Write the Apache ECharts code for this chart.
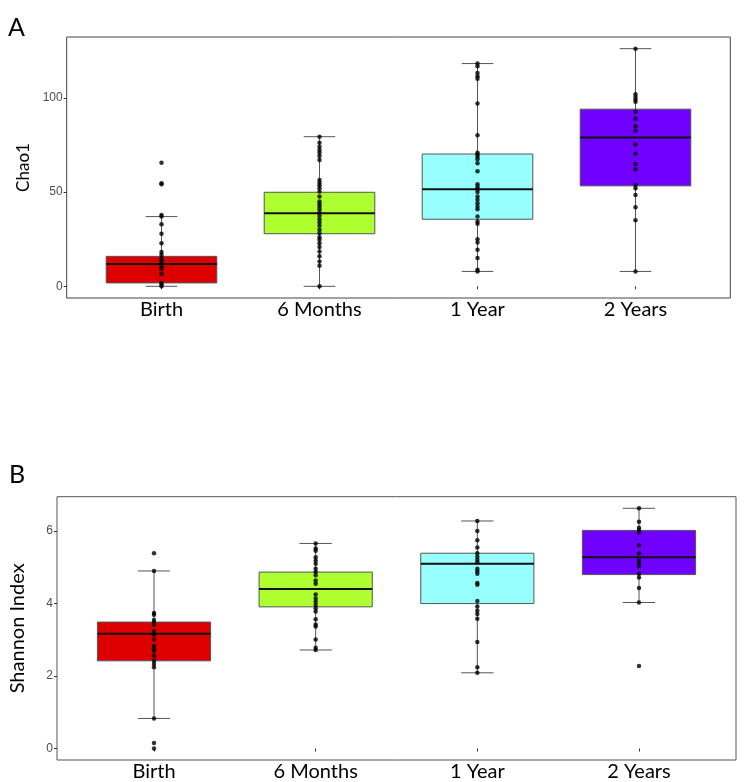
<!DOCTYPE html>
<html>
<head>
<meta charset="utf-8">
<script src="https://cdn.jsdelivr.net/npm/echarts@6/dist/echarts.min.js"></script>
<style>
  html, body { margin: 0; padding: 0; background: #fff; }
  #main { width: 744px; height: 782px; }
</style>
</head>
<body>
<div id="main"></div>
<script>
// groups, in x order
var categories = ["Birth", "6 Months", "1 Year", "2 Years"];
var boxColors = ["#dd0000", "#adff2f", "#98ffff", "#7000ff"];

// panel A: Chao1 -- [lowWhisker, Q1, median, Q3, highWhisker]
var chaoBoxes = [
  [0, 1.8, 11.8, 15.9, 37.0],
  [0, 27.9, 38.8, 49.9, 79.4],
  [7.9, 35.6, 51.5, 70.2, 118.2],
  [7.9, 53.3, 79.0, 94.0, 126.1]
];
var chaoBirth = [65.6, 54.7, 54.1, 37.9, 37.0, 33.0, 27.9, 22.9, 18.2, 16.8, 15.0, 13.8, 12.3, 10.6, 9.2, 6.7, 1.8, 0.9, 0];
var chao6m = [79.4, 76.2, 74.1, 72.3, 70.9, 69.1, 67.0, 56.4, 55.0, 53.6, 52.0, 50.3, 47.6, 45.0, 43.7, 42.3, 40.9, 39.2, 37.4, 35.6, 33.9, 32.1, 30.0, 28.2, 26.1, 24.7, 22.9, 20.8, 18.5, 15.9, 13.2, 10.9, 0];
var chao1y = [118.2, 116.8, 113.2, 111.5, 110.1, 97.0, 80.1, 70.9, 70.0, 68.8, 67.4, 65.3, 61.0, 54.1, 52.9, 51.5, 50.1, 47.6, 45.9, 44.1, 42.3, 40.9, 37.0, 34.4, 33.2, 25.0, 23.3, 19.4, 15.0, 8.8, 7.9];
var chao2y = [126.1, 101.9, 100.5, 99.1, 97.9, 92.6, 88.9, 85.0, 82.5, 75.3, 70.5, 64.9, 62.1, 53.8, 52.0, 48.5, 42.0, 35.1, 7.9];
var chaoTicks = [0, 50, 100];

// panel B: Shannon index
var shannonBoxes = [
  [0.83, 2.42, 3.17, 3.49, 4.90],
  [2.72, 3.91, 4.40, 4.87, 5.66],
  [2.09, 4.00, 5.10, 5.39, 6.28],
  [4.03, 4.80, 5.28, 6.02, 6.63]
];
var shanBirth = [5.39, 4.90, 3.74, 3.69, 3.55, 3.48, 3.42, 3.24, 3.15, 3.01, 2.83, 2.77, 2.69, 2.56, 2.42, 2.33, 2.24, 0.83, 0.15, 0];
var shan6m = [5.66, 5.52, 5.46, 5.28, 5.19, 5.10, 4.96, 4.87, 4.78, 4.64, 4.55, 4.25, 4.14, 4.05, 3.96, 3.87, 3.78, 3.57, 3.42, 3.37, 3.01, 2.78, 2.72];
var shan1y = [6.28, 6.00, 5.75, 5.55, 5.39, 5.29, 5.21, 5.14, 4.96, 4.89, 4.82, 4.57, 4.52, 4.07, 3.92, 3.80, 3.71, 3.58, 2.94, 2.24, 2.09];
var shan2y = [6.63, 6.26, 6.09, 6.03, 5.96, 5.61, 5.39, 5.19, 5.10, 5.03, 4.82, 4.72, 4.43, 4.03, 2.28];
var shannonTicks = [0, 2, 4, 6];

var BOX_W = 0.7, CAP_W = 0.2;

function toPoints(groups) {
  var pts = [];
  groups.forEach(function (vals, i) {
    vals.forEach(function (v) { pts.push([i + 1, v]); });
  });
  return pts;
}

function toBoxData(boxes) {
  return boxes.map(function (b, i) { return [i + 1].concat(b); });
}

function renderBox(params, api) {
  var x = api.value(0);
  var lo = api.coord([x, api.value(1)]);
  var q1 = api.coord([x, api.value(2)]);
  var med = api.coord([x, api.value(3)]);
  var q3 = api.coord([x, api.value(4)]);
  var hi = api.coord([x, api.value(5)]);
  var half = api.size([BOX_W, 0])[0] / 2;
  var cap = api.size([CAP_W, 0])[0] / 2;
  var line = { stroke: "#555", lineWidth: 1 };
  return {
    type: "group",
    children: [
      { type: "line", shape: { x1: lo[0], y1: lo[1], x2: hi[0], y2: hi[1] }, style: line },
      { type: "line", shape: { x1: lo[0] - cap, y1: lo[1], x2: lo[0] + cap, y2: lo[1] }, style: line },
      { type: "line", shape: { x1: hi[0] - cap, y1: hi[1], x2: hi[0] + cap, y2: hi[1] }, style: line },
      { type: "rect", shape: { x: q3[0] - half, y: q3[1], width: half * 2, height: q1[1] - q3[1] },
        style: { fill: boxColors[params.dataIndex], stroke: "#555", lineWidth: 1 } },
      { type: "line", shape: { x1: med[0] - half, y1: med[1], x2: med[0] + half, y2: med[1] },
        style: { stroke: "#111", lineWidth: 2 } }
    ]
  };
}

function xAxisFor(gridIndex) {
  return {
    type: "value", gridIndex: gridIndex, min: 0.4, max: 4.6,
    axisLine: { show: false },
    splitLine: { show: false },
    axisTick: { show: true, length: 3, lineStyle: { color: "#333" }, customValues: [1, 2, 3, 4] },
    axisLabel: {
      customValues: [1, 2, 3, 4], margin: 2,
      color: "#000", fontFamily: "Lato", fontSize: 20,
      formatter: function (v) { return categories[Math.round(v) - 1]; }
    }
  };
}

function yAxisFor(gridIndex, min, max, ticks, name, nameSize, nameGap) {
  return {
    type: "value", gridIndex: gridIndex, min: min, max: max,
    name: name, nameLocation: "middle", nameGap: nameGap,
    nameTextStyle: { fontFamily: "Lato", fontSize: nameSize, color: "#000" },
    axisLine: { show: false },
    splitLine: { show: false },
    axisTick: { show: true, length: 3, lineStyle: { color: "#333" }, customValues: ticks },
    axisLabel: { customValues: ticks, margin: 4, color: "#4d4d4d", fontFamily: "Liberation Sans", fontSize: 12 }
  };
}

var chart = echarts.init(document.getElementById("main"));

var option = {
  animation: false,
  title: [
    { text: "A", left: 3, top: 10, textStyle: { fontFamily: "Lato", fontWeight: "normal", fontSize: 25, color: "#000" } },
    { text: "B", left: 4, top: 457, textStyle: { fontFamily: "Lato", fontWeight: "normal", fontSize: 25, color: "#000" } }
  ],
  grid: [
    { left: 66.7, top: 37, width: 663.6, height: 261, show: true, borderColor: "#444", borderWidth: 1 },
    { left: 45, top: 496.7, width: 691, height: 267.3, show: true, borderColor: "#555", borderWidth: 1 }
  ],
  xAxis: [xAxisFor(0), xAxisFor(1)],
  yAxis: [
    yAxisFor(0, -6.2, 132.3, chaoTicks, "Chao1", 17, 33),
    yAxisFor(1, -0.317, 6.95, shannonTicks, "Shannon Index", 20, 29)
  ],
  series: [
    { type: "custom", xAxisIndex: 0, yAxisIndex: 0, renderItem: renderBox, data: toBoxData(chaoBoxes), z: 2 },
    { type: "scatter", xAxisIndex: 0, yAxisIndex: 0, symbolSize: 4.5, itemStyle: { color: "#000" },
      data: toPoints([chaoBirth, chao6m, chao1y, chao2y]), z: 3 },
    { type: "custom", xAxisIndex: 1, yAxisIndex: 1, renderItem: renderBox, data: toBoxData(shannonBoxes), z: 2 },
    { type: "scatter", xAxisIndex: 1, yAxisIndex: 1, symbolSize: 4.5, itemStyle: { color: "#000" },
      data: toPoints([shanBirth, shan6m, shan1y, shan2y]), z: 3 }
  ]
};

chart.setOption(option);
</script>
</body>
</html>
